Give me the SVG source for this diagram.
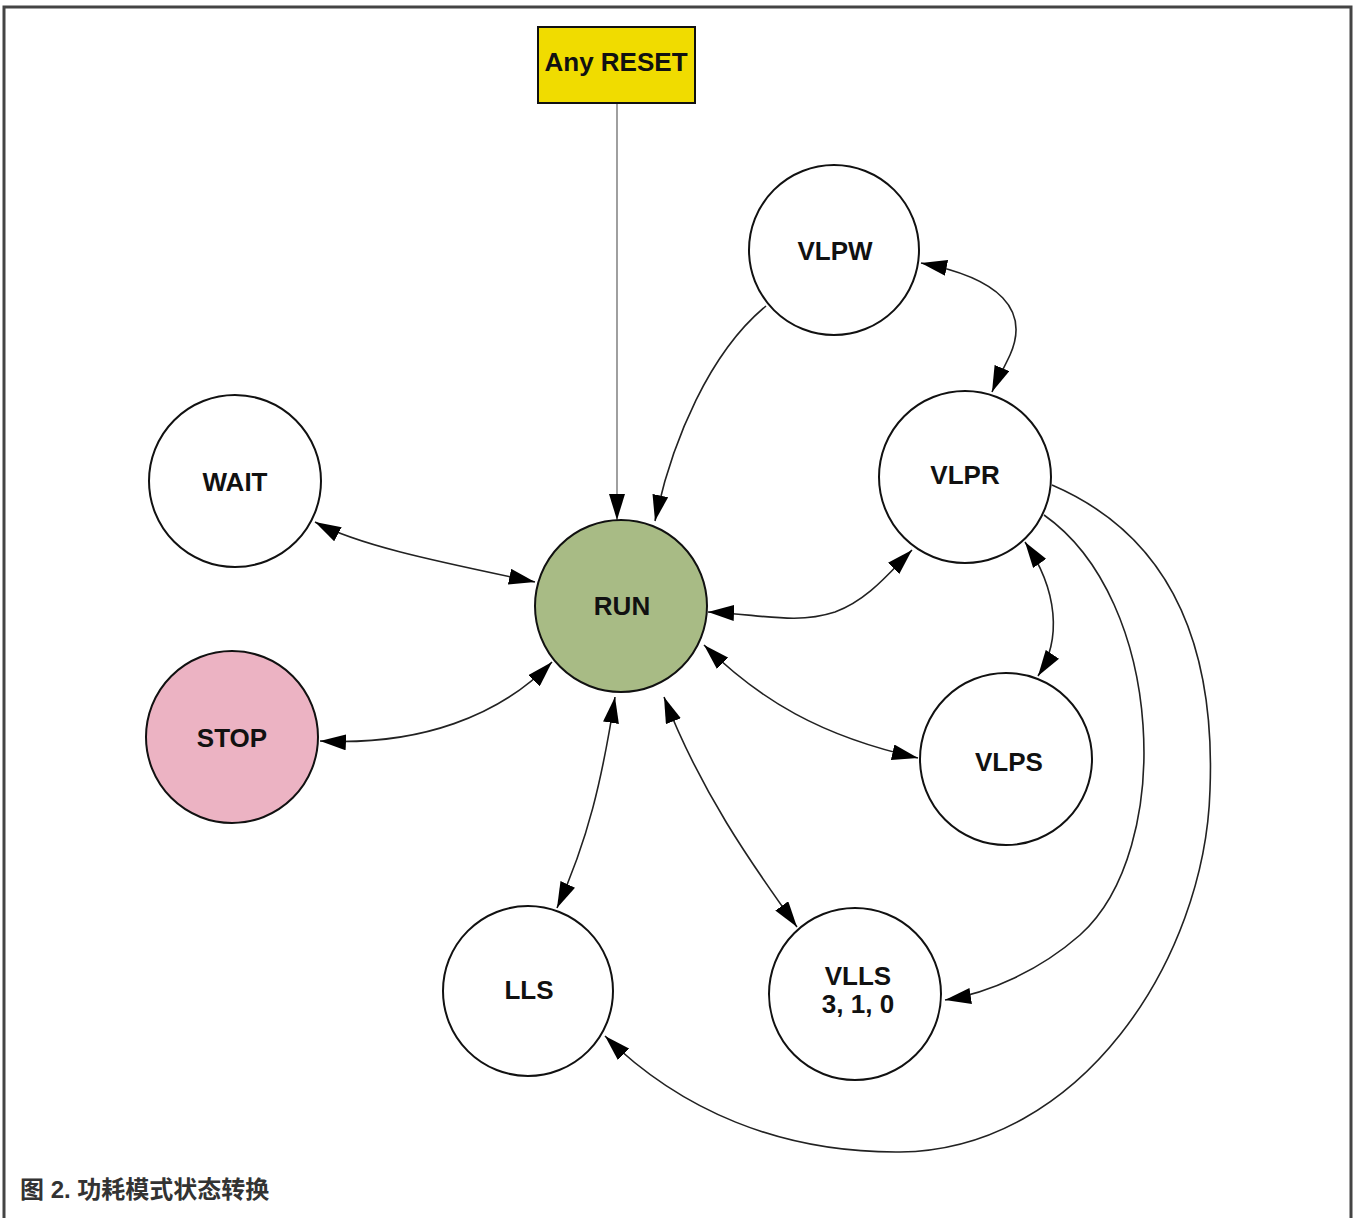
<svg xmlns="http://www.w3.org/2000/svg" width="1354" height="1218" viewBox="0 0 1354 1218">
<defs>
<marker id="ah" viewBox="0 0 26 16" refX="26" refY="8" markerWidth="26" markerHeight="16" markerUnits="userSpaceOnUse" orient="auto-start-reverse">
<path d="M0,0 L26,8 L0,16 Z" fill="#000"/>
</marker>
</defs>
<style>
.node{stroke:#111;stroke-width:2}
.lbl{font-family:"Liberation Sans",Arial,sans-serif;font-weight:bold;font-size:26px;fill:#111;text-anchor:middle}
.e{fill:none;stroke:#222;stroke-width:1.6}
.g{fill:none;stroke:#777;stroke-width:1.4}
</style>
<rect x="0" y="0" width="1354" height="1218" fill="#fff"/>
<path d="M4,1218 V7 H1351 V1218" fill="none" stroke="#444" stroke-width="3"/>
<g id="connectors">
<path class="g" d="M617,104 V520" marker-end="url(#ah)"/>
<path class="e" d="M766,306 C710,352 672,440 655,521" marker-end="url(#ah)"/>
<path class="e" d="M921,263 C1000,278 1030,310 1010,355 C1003,370 997,380 992,392" marker-start="url(#ah)" marker-end="url(#ah)"/>
<path class="e" d="M315,522 C360,546 440,562 535,582" marker-start="url(#ah)" marker-end="url(#ah)"/>
<path class="e" d="M708,612 C760,614 795,625 835,612 C868,600 890,572 912,550" marker-start="url(#ah)" marker-end="url(#ah)"/>
<path class="e" d="M320,741 C420,746 500,716 552,662" marker-start="url(#ah)" marker-end="url(#ah)"/>
<path class="e" d="M1025,542 C1058,590 1062,640 1038,676" marker-start="url(#ah)" marker-end="url(#ah)"/>
<path class="e" d="M704,645 C760,700 820,736 918,758" marker-start="url(#ah)" marker-end="url(#ah)"/>
<path class="e" d="M615,697 C602,780 588,840 557,908" marker-start="url(#ah)" marker-end="url(#ah)"/>
<path class="e" d="M664,697 C700,790 750,862 797,927" marker-start="url(#ah)" marker-end="url(#ah)"/>
<path class="e" d="M1044,515 C1165,600 1175,850 1080,935 C1040,970 990,993 945,1000" marker-end="url(#ah)"/>
<path class="e" d="M1052,485 C1180,540 1215,660 1210,790 C1205,960 1080,1150 900,1152 C780,1153 680,1110 605,1036" marker-end="url(#ah)"/>
</g>
<g id="node-anyreset">
<rect class="node" x="538" y="27" width="157" height="76" fill="#f0dc00"/>
<text class="lbl" x="616" y="71">Any RESET</text>
</g>
<g id="node-vlpw">
<circle class="node" cx="834" cy="250" r="85" fill="#fff"/>
<text class="lbl" x="835" y="260">VLPW</text>
</g>
<g id="node-wait">
<circle class="node" cx="235" cy="481" r="86" fill="#fff"/>
<text class="lbl" x="235" y="491">WAIT</text>
</g>
<g id="node-vlpr">
<circle class="node" cx="965" cy="477" r="86" fill="#fff"/>
<text class="lbl" x="965" y="484">VLPR</text>
</g>
<g id="node-run">
<circle class="node" cx="621" cy="606" r="86" fill="#a8bb85"/>
<text class="lbl" x="622" y="615">RUN</text>
</g>
<g id="node-stop">
<circle class="node" cx="232" cy="737" r="86" fill="#ecb3c3"/>
<text class="lbl" x="232" y="747">STOP</text>
</g>
<g id="node-vlps">
<circle class="node" cx="1006" cy="759" r="86" fill="#fff"/>
<text class="lbl" x="1009" y="771">VLPS</text>
</g>
<g id="node-lls">
<circle class="node" cx="528" cy="991" r="85" fill="#fff"/>
<text class="lbl" x="529" y="999">LLS</text>
</g>
<g id="node-vlls">
<circle class="node" cx="855" cy="994" r="86" fill="#fff"/>
<text class="lbl" x="858" y="985">VLLS</text>
<text class="lbl" x="858" y="1013">3, 1, 0</text>
</g>
<text x="20" y="1198" font-family="'Liberation Sans','Noto Sans CJK SC',sans-serif" font-weight="bold" font-size="24" fill="#333">图 2. 功耗模式状态转换</text>
</svg>
